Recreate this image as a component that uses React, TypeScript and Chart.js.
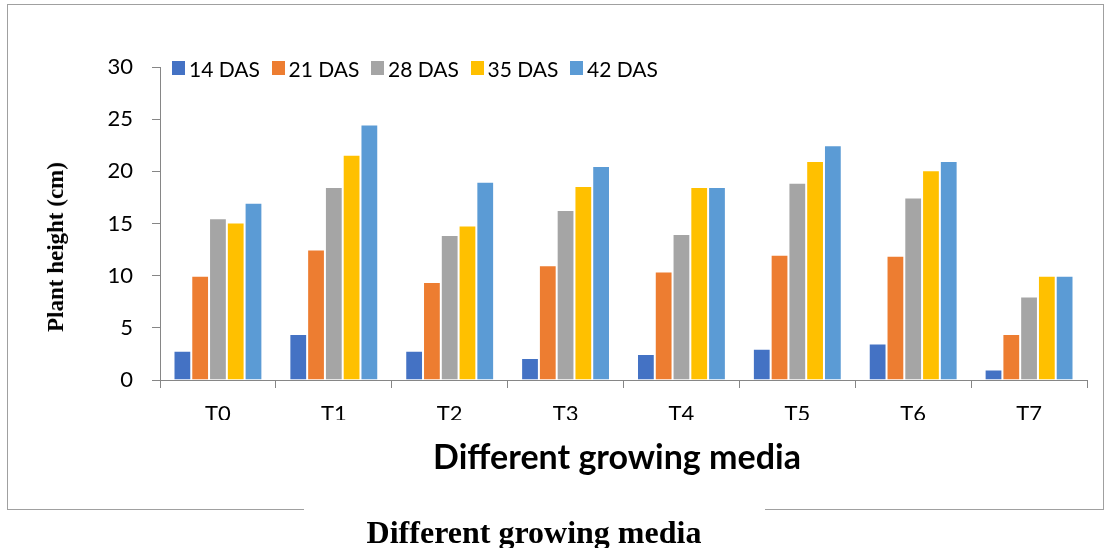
import React, { useEffect, useRef } from "react";
import { Chart, registerables } from "chart.js";
Chart.register(...registerables);

const categories = ["T0", "T1", "T2", "T3", "T4", "T5", "T6", "T7"];
const seriesNames = ["14 DAS", "21 DAS", "28 DAS", "35 DAS", "42 DAS"];
const das14 = [2.8, 4.4, 2.8, 2.1, 2.5, 3.0, 3.5, 1.0];
const das21 = [10.0, 12.5, 9.4, 11.0, 10.4, 12.0, 11.9, 4.4];
const das28 = [15.5, 18.5, 13.9, 16.3, 14.0, 18.9, 17.5, 8.0];
const das35 = [15.1, 21.6, 14.8, 18.6, 18.5, 21.0, 20.1, 10.0];
const das42 = [17.0, 24.5, 19.0, 20.5, 18.5, 22.5, 21.0, 10.0];
const seriesValues = [das14, das21, das28, das35, das42];
const seriesColors = ["#4472C4", "#ED7D31", "#A5A5A5", "#FFC000", "#5B9BD5"];
const yTicks = [0, 5, 10, 15, 20, 25, 30];
const yTitle = "Plant height (cm)";
const xTitle = "Different growing media";
const bottomTitle = "Different growing media";

const W = 1110;
const H = 548;
const FONT = "Lato, 'Open Sans', sans-serif";
const SERIF = "'Liberation Serif', 'Times New Roman', serif";
const AXIS = "#868686";

export default function App() {
  const ref = useRef<HTMLCanvasElement | null>(null);

  useEffect(() => {
    if (!ref.current) return;
    const chart = new Chart(ref.current, {
      type: "bar",
      data: {
        labels: categories,
        datasets: seriesNames.map((name, i) => ({
          label: name,
          data: seriesValues[i],
          backgroundColor: seriesColors[i],
          borderColor: "rgba(255,255,255,0.85)",
          borderWidth: 1,
          categoryPercentage: 0.767,
          barPercentage: 1,
        })),
      },
      options: {
        responsive: false,
        animation: false,
        devicePixelRatio: 1,
        layout: { padding: { left: 0, top: 67, right: 23, bottom: 128 } },
        plugins: { legend: { display: false }, tooltip: { enabled: false } },
        scales: {
          x: {
            afterFit: (s: any) => {
              s.height = 40;
            },
            grid: {
              offset: true,
              drawOnChartArea: false,
              drawTicks: true,
              tickLength: 8,
              color: AXIS,
              lineWidth: 1,
            },
            border: { color: AXIS, width: 1 },
            ticks: {
              color: "#000",
              font: { family: FONT, size: 22 },
              padding: 13,
            },
          },
          y: {
            min: 0,
            max: 30,
            afterFit: (s: any) => {
              s.width = 160;
            },
            afterBuildTicks: (s: any) => {
              s.ticks = yTicks.map((v) => ({ value: v }));
            },
            grid: {
              drawOnChartArea: false,
              drawTicks: true,
              tickLength: 8,
              color: AXIS,
              lineWidth: 1,
            },
            border: { color: AXIS, width: 1 },
            ticks: {
              color: "#000",
              font: { family: FONT, size: 22 },
              padding: 19,
            },
          },
        },
      },
    });
    return () => chart.destroy();
  }, []);

  return (
    <div style={{ position: "absolute", left: 0, top: 0, width: W, height: H, background: "#fff", overflow: "hidden" }}>
      {/* outer frame */}
      <div style={{ position: "absolute", left: 7, top: 4, width: 1097, height: 506, borderLeft: "1.5px solid #a0a0a0", borderTop: "1.5px solid #a0a0a0", borderRight: "1.5px solid #a0a0a0", boxSizing: "border-box" }} />
      <div style={{ position: "absolute", left: 7, top: 509, width: 297, height: 0, borderTop: "1.5px solid #a0a0a0" }} />
      <div style={{ position: "absolute", left: 765, top: 509, width: 339, height: 0, borderTop: "1.5px solid #a0a0a0" }} />
      <canvas ref={ref} width={W} height={H} style={{ position: "absolute", left: 0, top: 0, width: W, height: H }} />
      {/* legend */}
      {seriesNames.map((name, i) => (
        <div key={name} style={{ position: "absolute", left: 172 + i * 99.5, top: 56, height: 24, display: "flex", alignItems: "center", whiteSpace: "nowrap" }}>
          <span style={{ display: "inline-block", width: 13, height: 14, background: seriesColors[i], marginRight: 4 }} />
          <span style={{ fontFamily: FONT, fontSize: 21, color: "#000" }}>{name}</span>
        </div>
      ))}
      {/* y title */}
      <div style={{ position: "absolute", left: 56, top: 247, transform: "translate(-50%, -50%) rotate(-90deg)", fontFamily: SERIF, fontWeight: "bold", fontSize: 23, whiteSpace: "nowrap", color: "#000" }}>{yTitle}</div>
      {/* x title */}
      <div style={{ position: "absolute", left: 617, top: 455, transform: "translate(-50%, -50%)", fontFamily: FONT, fontWeight: "bold", fontSize: 34, whiteSpace: "nowrap", color: "#000" }}>{xTitle}</div>
      {/* bottom caption */}
      <div style={{ position: "absolute", left: 534, top: 532, transform: "translate(-50%, -50%)", fontFamily: SERIF, fontWeight: "bold", fontSize: 32, whiteSpace: "nowrap", color: "#000" }}>{bottomTitle}</div>
    </div>
  );
}
